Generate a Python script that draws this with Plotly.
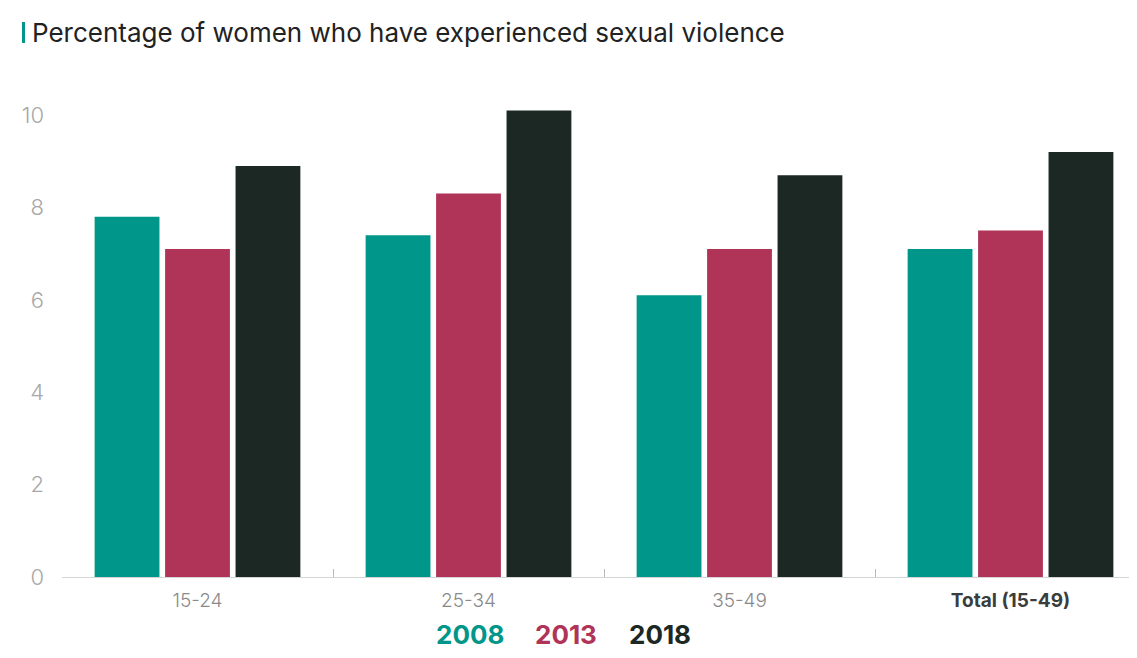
import plotly.graph_objects as go

categories = ["15-24", "25-34", "35-49", "Total (15-49)"]
tick_labels = ["15-24", "25-34", "35-49", "<b><span style='color:#3a3d3d'>Total (15-49)</span></b>"]
years = ["2008", "2013", "2018"]
values_2008 = [7.8, 7.4, 6.1, 7.1]
values_2013 = [7.1, 8.3, 7.1, 7.5]
values_2018 = [8.9, 10.1, 8.7, 9.2]
colors = ["#00968A", "#B03358", "#1B2824"]

series = [values_2008, values_2013, values_2018]

# page has an 8px body margin; figure coordinates = page coordinates - 8
OFF = 8
W, H = 1137 - 2 * OFF, 658 - 2 * OFF
L = 62 - OFF
T = 92 - OFF
BOTTOM = 577 - OFF
B = H - BOTTOM
PW = W - L
PH = BOTTOM - T


def px(xp):
    return (xp - OFF - L) / PW


def py(yp):
    return (BOTTOM - (yp - OFF)) / PH


fig = go.Figure()
for yr, vals, col in zip(years, series, colors):
    fig.add_trace(go.Bar(x=categories, y=vals, name=yr, marker=dict(color=col, line=dict(width=0)),
                         showlegend=False))

fig.update_layout(
    width=W, height=H,
    margin=dict(l=L, r=0, t=T, b=B, autoexpand=False),
    paper_bgcolor="white", plot_bgcolor="white",
    barmode="group", bargap=0.22, bargroupgap=0.08,
    font=dict(family="Inter", color="#999999"),
)
fig.update_xaxes(
    type="category", range=[-0.5, -0.5 + PW / 271], automargin=False,
    tickmode="array", tickvals=categories, ticktext=tick_labels,
    tickson="boundaries", ticks="inside", ticklen=8, tickcolor="#bbbbbb", tickwidth=1,
    showline=True, linecolor="#d5d5d5", linewidth=1, ticklabelstandoff=6,
    showgrid=False, tickfont=dict(size=19, color="#8a8a8a", weight=300),
)
fig.update_yaxes(
    range=[0, 10.5], tickvals=[0, 2, 4, 6, 8, 10], showgrid=False, zeroline=False,
    showline=False, ticks="", ticklabelstandoff=17, automargin=False,
    tickfont=dict(size=22, color="#a8a8a8", weight=300),
)

# title marker
fig.add_shape(type="rect", xref="paper", yref="paper",
              x0=px(22), x1=px(25), y0=py(43), y1=py(22),
              fillcolor="#00968A", line=dict(width=0))
fig.add_annotation(text="Percentage of women who have experienced sexual violence",
                   xref="paper", yref="paper", x=px(30), y=py(32),
                   xanchor="left", yanchor="middle", showarrow=False,
                   font=dict(size=26, color="#222222", family="Inter"))

# legend-like year labels
legend_x = [470, 566, 660]
for yr, col, lx in zip(years, colors, legend_x):
    fig.add_annotation(text=f"<b>{yr}</b>", xref="paper", yref="paper",
                       x=px(lx), y=py(634), borderpad=0,
                       xanchor="center", yanchor="middle", showarrow=False,
                       font=dict(size=26, color=col, family="Inter"))

fig.write_html("out.html")
